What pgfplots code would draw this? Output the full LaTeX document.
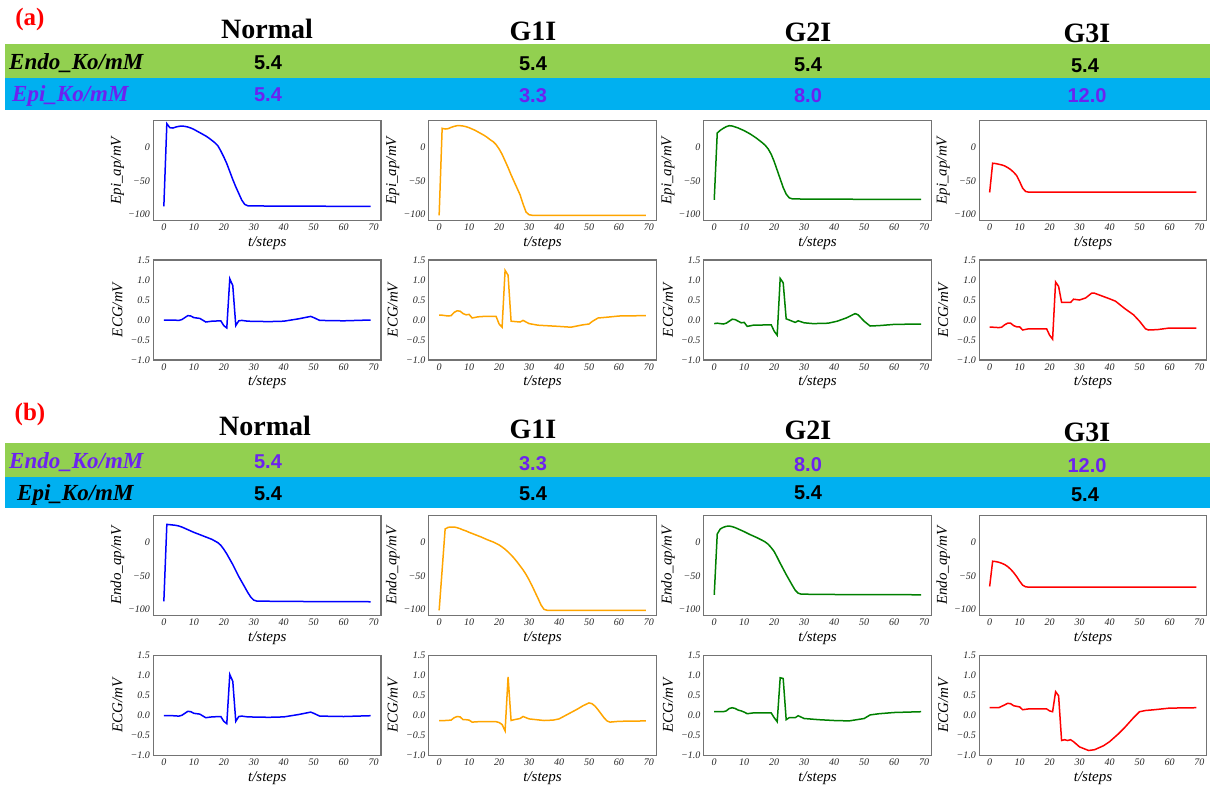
\documentclass[border=0pt]{standalone}
\usepackage{fontspec}
\setmainfont{Liberation Serif}
\setsansfont{Liberation Sans}
\usepackage{xcolor}
\usepackage{pgfplots}
\pgfplotsset{compat=1.18}

\definecolor{bandgreen}{HTML}{92D050}
\definecolor{bandblue}{HTML}{00B0F0}
\definecolor{kopurple}{HTML}{6C22F0}
\definecolor{mplorange}{HTML}{FFA500}
\definecolor{mplgreen}{HTML}{008000}

\newcommand{\fs}[1]{\fontsize{#1}{#1}\selectfont}

\pgfplotsset{
  panel/.style={scale only axis, width=227.5pt, height=100pt, anchor=north west,
    xmin=-3.45, xmax=72.45, xtick={0,10,...,70},
    xticklabels={0,10,20,30,40,50,60,70},
    axis line style={draw=black!55, line width=1.1pt},
    major tick length=0pt,
    ticklabel style={font=\fs{10}\itshape, text=black!85},
    xlabel={t/steps},
    label style={font=\fs{15}\itshape},
    xlabel style={at={(axis description cs:0.5,-0.22)}, anchor=center},
    ylabel style={at={(axis description cs:-0.158,0.5)}, anchor=center},
    every axis plot/.append style={line width=1.5pt, mark=none},
  },
  ap/.style={panel, ymin=-110, ymax=40.5, ytick={-100,-50,0},
    yticklabels={−100,−50,0}},
  ecg/.style={panel, ymin=-1, ymax=1.5, ytick={-1,-0.5,0,0.5,1,1.5},
    yticklabels={−1.0,−0.5,0.0,0.5,1.0,1.5}, ylabel={ECG/mV}},
}

\begin{document}
\begin{tikzpicture}
\path[use as bounding box] (0pt,0pt) rectangle (1210pt,-788pt);

% ---------- header (a)
\fill[bandgreen] (5pt,-44pt) rectangle (1210pt,-78pt);
\fill[bandblue] (5pt,-78pt) rectangle (1210pt,-110pt);
\node[text=red, font=\fs{25}\bfseries] at (30pt,-19pt) {(a)};
\node[anchor=base, font=\fs{28}\bfseries] at (267pt,-38pt) {Normal};
\node[anchor=base, font=\fs{28}\bfseries] at (533pt,-40pt) {G1I};
\node[anchor=base, font=\fs{28}\bfseries] at (808pt,-41pt) {G2I};
\node[anchor=base, font=\fs{28}\bfseries] at (1087pt,-42pt) {G3I};
\node[anchor=base west, inner sep=0pt, font=\fs{23}\bfseries\itshape] at (9pt,-69pt) {Endo\_Ko/mM};
\node[anchor=base west, inner sep=0pt, text=kopurple, font=\fs{23}\bfseries\itshape] at (12pt,-101pt) {Epi\_Ko/mM};
\begin{scope}[every node/.style={anchor=base, font=\fs{20}\sffamily\bfseries}]
\node at (268pt,-69.5pt) {5.4};
\node at (533pt,-70.5pt) {5.4};
\node at (808pt,-71pt) {5.4};
\node at (1085pt,-72.5pt) {5.4};
\node[text=kopurple] at (268pt,-101.5pt) {5.4};
\node[text=kopurple] at (533pt,-102pt) {3.3};
\node[text=kopurple] at (808pt,-102.5pt) {8.0};
\node[text=kopurple] at (1087pt,-102pt) {12.0};
\end{scope}

% ---------- header (b)
\fill[bandgreen] (5pt,-443pt) rectangle (1210pt,-477pt);
\fill[bandblue] (5pt,-477pt) rectangle (1210pt,-508pt);
\node[text=red, font=\fs{25}\bfseries] at (30pt,-414pt) {(b)};
\node[anchor=base, font=\fs{28}\bfseries] at (265pt,-435pt) {Normal};
\node[anchor=base, font=\fs{28}\bfseries] at (533pt,-438pt) {G1I};
\node[anchor=base, font=\fs{28}\bfseries] at (808pt,-439pt) {G2I};
\node[anchor=base, font=\fs{28}\bfseries] at (1087pt,-441pt) {G3I};
\node[anchor=base west, inner sep=0pt, text=kopurple, font=\fs{23}\bfseries\itshape] at (9pt,-468pt) {Endo\_Ko/mM};
\node[anchor=base west, inner sep=0pt, font=\fs{23}\bfseries\itshape] at (17pt,-500pt) {Epi\_Ko/mM};
\begin{scope}[every node/.style={anchor=base, font=\fs{20}\sffamily\bfseries}]
\node[text=kopurple] at (268pt,-468.5pt) {5.4};
\node[text=kopurple] at (533pt,-470pt) {3.3};
\node[text=kopurple] at (808pt,-471pt) {8.0};
\node[text=kopurple] at (1087pt,-472pt) {12.0};
\node at (268pt,-500pt) {5.4};
\node at (533pt,-500pt) {5.4};
\node at (808pt,-499.5pt) {5.4};
\node at (1085pt,-501pt) {5.4};
\end{scope}

% ---------- (a) Epi action potentials
\begin{axis}[ap, at={(153.5pt,-120.7pt)}, ylabel={Epi\_ap/mV}]
\addplot[blue] coordinates {(0,-88.5)(1,36)(2,30)(3,29.5)(4,31)(5,32)(6,32.5)(7,32)(8,31)(9,29.5)(10,27.5)(11,25)(12,22.5)(13,20)(14,17.5)(15,14.5)(16,11)(17,7.5)(18,3)(19,-5)(20,-14)(21,-24)(22,-36)(23,-48)(24,-59)(25,-69)(26,-79)(27,-85.5)(28,-87.5)(30,-87.8)(40,-88)(69,-88.5)};
\end{axis}
\begin{axis}[ap, at={(428.8pt,-120.7pt)}, ylabel={Epi\_ap/mV}]
\addplot[mplorange] coordinates {(0,-102)(1,29)(2,28)(3,28.5)(4,30.5)(5,32)(6,33)(7,33)(8,32.5)(9,31.5)(10,30)(11,28)(12,26)(13,23.5)(14,21)(15,18.5)(16,15.5)(17,12)(18,9)(19,4.5)(20,-2)(21,-10)(22,-20)(23,-30)(24,-41)(25,-51)(26,-61)(27,-71)(28,-85)(29,-97)(30,-101)(31,-101.8)(69,-102)};
\end{axis}
\begin{axis}[ap, at={(703.9pt,-120.7pt)}, ylabel={Epi\_ap/mV}]
\addplot[mplgreen] coordinates {(0,-78.5)(1,22)(2,26)(3,29)(4,31.5)(5,33)(6,32.5)(7,31)(8,29.5)(9,27.5)(10,25.5)(11,23)(12,20.5)(13,17.5)(14,14.5)(15,11)(16,7.5)(17,3.5)(18,-2)(19,-10)(20,-21)(21,-34)(22,-47)(23,-60)(24,-70)(25,-75.5)(26,-77)(30,-77.5)(69,-78)};
\end{axis}
\begin{axis}[ap, at={(979.3pt,-120.7pt)}, ylabel={Epi\_ap/mV}]
\addplot[red] coordinates {(0,-67.5)(1,-23.5)(2,-24)(3,-25)(4,-26)(5,-27.5)(6,-30)(7,-33)(8,-37)(9,-42)(10,-51)(11,-61)(12,-66)(13,-67)(69,-67)};
\end{axis}

% ---------- (a) ECG
\begin{axis}[ecg, at={(153.5pt,-260pt)}]
\addplot[blue] coordinates {(0,0)(3,0)(5,-0.01)(6,0.01)(8,0.11)(9,0.1)(10,0.06)(12,0.04)(14,-0.05)(16,-0.03)(19,-0.02)(20,-0.14)(21,-0.2)(22,1.03)(23,0.86)(24,-0.14)(25,-0.02)(26,-0.01)(28,-0.03)(35,-0.04)(40,-0.03)(45,0.03)(49,0.09)(50,0.06)(52,-0.01)(60,-0.02)(69,0)};
\end{axis}
\begin{axis}[ecg, at={(428.8pt,-260pt)}]
\addplot[mplorange] coordinates {(0,0.12)(1,0.12)(3,0.1)(4,0.11)(5,0.19)(6,0.23)(7,0.22)(8,0.16)(9,0.13)(10,0.14)(11,0.05)(13,0.08)(15,0.09)(19,0.09)(20,-0.1)(21,-0.18)(22,1.24)(23,1.12)(24,-0.03)(27,-0.05)(28,-0.01)(30,-0.09)(33,-0.13)(40,-0.16)(44,-0.18)(48,-0.12)(50,-0.1)(51,-0.04)(53,0.05)(56,0.07)(60,0.1)(69,0.11)};
\end{axis}
\begin{axis}[ecg, at={(703.9pt,-260pt)}]
\addplot[mplgreen] coordinates {(0,-0.09)(1,-0.08)(3,-0.1)(4,-0.08)(5,-0.03)(6,0.02)(7,0.01)(8,-0.03)(9,-0.07)(10,-0.06)(11,-0.16)(13,-0.13)(19,-0.12)(20,-0.28)(21,-0.38)(22,1.04)(23,0.93)(24,0.03)(27,-0.06)(28,-0.02)(30,-0.07)(33,-0.09)(38,-0.08)(41,-0.03)(44,0.05)(47,0.16)(48,0.13)(50,-0.03)(52,-0.15)(55,-0.14)(60,-0.11)(69,-0.1)};
\end{axis}
\begin{axis}[ecg, at={(979.3pt,-260pt)}]
\addplot[red] coordinates {(0,-0.18)(1,-0.18)(3,-0.19)(4,-0.18)(5,-0.12)(6,-0.08)(7,-0.08)(8,-0.14)(9,-0.17)(10,-0.17)(11,-0.25)(13,-0.22)(19,-0.22)(20,-0.38)(21,-0.48)(22,0.95)(23,0.84)(24,0.44)(27,0.44)(28,0.52)(30,0.5)(32,0.55)(34,0.67)(35,0.67)(40,0.53)(42,0.47)(45,0.29)(48,0.13)(50,-0.03)(52,-0.22)(53,-0.25)(56,-0.24)(60,-0.2)(69,-0.2)};
\end{axis}

% ---------- (b) Endo action potentials
\begin{axis}[ap, at={(153.5pt,-515.7pt)}, ylabel={Endo\_ap/mV}]
\addplot[blue] coordinates {(0,-88.5)(1,27.5)(2,27)(3,26.5)(4,26)(5,25)(6,23.5)(7,21.5)(8,19.5)(9,17.5)(10,15.5)(12,12)(14,8.5)(16,5)(18,0)(19,-4)(20,-10)(21,-17)(22,-25)(23,-33)(24,-42)(25,-51)(26,-59)(27,-67)(28,-75)(29,-82)(30,-86.5)(31,-88)(40,-88.5)(69,-89)};
\end{axis}
\begin{axis}[ap, at={(428.8pt,-515.7pt)}, ylabel={Endo\_ap/mV}]
\addplot[mplorange] coordinates {(0,-102)(1,-41)(2,20.5)(3,23)(4,23.5)(5,23.5)(6,22.5)(7,21)(8,19)(9,17.5)(10,15.5)(12,12)(14,8.5)(16,4.5)(18,1)(20,-3.5)(21,-6.5)(22,-10)(23,-14)(24,-18.5)(25,-23.5)(26,-29)(27,-35)(28,-41)(29,-48)(30,-56)(31,-65)(32,-74.5)(33,-84)(34,-94)(35,-100.5)(36,-101.8)(69,-102)};
\end{axis}
\begin{axis}[ap, at={(703.9pt,-515.7pt)}, ylabel={Endo\_ap/mV}]
\addplot[mplgreen] coordinates {(0,-78.5)(1,13)(2,20.5)(3,23)(4,24.5)(5,25)(6,24)(7,22.5)(8,20.5)(9,18.5)(10,16.5)(12,12)(14,8)(16,3.5)(17,1)(18,-2.5)(19,-7.5)(20,-13.5)(21,-22)(22,-31)(23,-39.5)(24,-48)(25,-56)(26,-64)(27,-71.5)(28,-76)(29,-77.5)(35,-78)(69,-78.5)};
\end{axis}
\begin{axis}[ap, at={(979.3pt,-515.7pt)}, ylabel={Endo\_ap/mV}]
\addplot[red] coordinates {(0,-66)(1,-28)(2,-28.5)(3,-29.5)(4,-31)(5,-33)(6,-36)(7,-40)(8,-45)(9,-51)(10,-58)(11,-64)(12,-66.5)(13,-67)(69,-67)};
\end{axis}

% ---------- (b) ECG
\begin{axis}[ecg, at={(153.5pt,-655.7pt)}]
\addplot[blue] coordinates {(0,0)(3,0)(5,-0.01)(6,0.01)(8,0.11)(9,0.1)(10,0.06)(12,0.04)(14,-0.05)(16,-0.03)(19,-0.02)(20,-0.14)(21,-0.2)(22,1.03)(23,0.86)(24,-0.14)(25,-0.02)(26,-0.01)(28,-0.03)(35,-0.04)(40,-0.03)(45,0.03)(49,0.09)(50,0.06)(52,-0.01)(60,-0.02)(69,0)};
\end{axis}
\begin{axis}[ecg, at={(428.8pt,-655.7pt)}]
\addplot[mplorange] coordinates {(0,-0.12)(2,-0.12)(4,-0.11)(5,-0.05)(6,-0.02)(7,-0.03)(8,-0.1)(9,-0.1)(10,-0.11)(11,-0.16)(13,-0.15)(19,-0.15)(20,-0.17)(21,-0.22)(22,-0.38)(23,0.97)(24,-0.12)(25,-0.1)(27,-0.07)(28,-0.02)(30,-0.08)(35,-0.12)(38,-0.11)(40,-0.08)(42,0.0)(44,0.08)(46,0.16)(48,0.25)(50,0.32)(51,0.3)(52,0.24)(53,0.15)(54,0.05)(55,-0.05)(56,-0.13)(57,-0.16)(60,-0.14)(69,-0.13)};
\end{axis}
\begin{axis}[ecg, at={(703.9pt,-655.7pt)}]
\addplot[mplgreen] coordinates {(0,0.1)(3,0.1)(4,0.12)(5,0.18)(6,0.2)(7,0.18)(8,0.14)(9,0.12)(10,0.09)(11,0.05)(13,0.07)(19,0.07)(20,-0.05)(21,-0.15)(22,0.95)(23,0.93)(24,-0.1)(25,-0.05)(27,-0.05)(28,0.0)(30,-0.07)(35,-0.1)(40,-0.12)(45,-0.13)(50,-0.07)(52,0.02)(55,0.05)(60,0.08)(69,0.1)};
\end{axis}
\begin{axis}[ecg, at={(979.3pt,-655.7pt)}]
\addplot[red] coordinates {(0,0.2)(3,0.2)(5,0.27)(6,0.31)(7,0.3)(8,0.25)(10,0.22)(11,0.15)(13,0.17)(19,0.17)(20,0.12)(21,0.1)(22,0.6)(23,0.5)(24,-0.62)(25,-0.6)(26,-0.62)(27,-0.6)(28,-0.65)(30,-0.78)(33,-0.87)(35,-0.85)(38,-0.75)(40,-0.65)(43,-0.45)(45,-0.3)(48,-0.05)(50,0.1)(52,0.13)(55,0.15)(60,0.19)(69,0.2)};
\end{axis}
\end{tikzpicture}
\end{document}
